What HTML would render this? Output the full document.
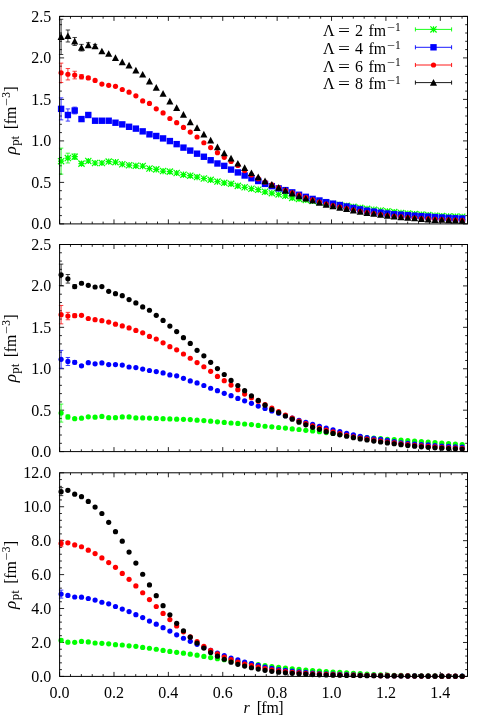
<!DOCTYPE html>
<html><head><meta charset="utf-8"><title>rho_pt</title>
<style>
html,body{margin:0;padding:0;background:#fff;}
svg{display:block;will-change:transform;}
text{font-family:"Liberation Serif",serif;font-size:16px;fill:#000;}
text.s{font-size:11.5px;}
</style></head>
<body>
<svg width="491" height="720" viewBox="0 0 491 720">
<rect width="491" height="720" fill="#fff"/>
<path d="M59.6 223.9v-4.5M59.6 16.4v4.5M70.48 223.9v-2.3M70.48 16.4v2.3M81.35 223.9v-2.3M81.35 16.4v2.3M92.23 223.9v-2.3M92.23 16.4v2.3M103.11 223.9v-2.3M103.11 16.4v2.3M113.99 223.9v-4.5M113.99 16.4v4.5M124.86 223.9v-2.3M124.86 16.4v2.3M135.74 223.9v-2.3M135.74 16.4v2.3M146.62 223.9v-2.3M146.62 16.4v2.3M157.5 223.9v-2.3M157.5 16.4v2.3M168.37 223.9v-4.5M168.37 16.4v4.5M179.25 223.9v-2.3M179.25 16.4v2.3M190.13 223.9v-2.3M190.13 16.4v2.3M201.01 223.9v-2.3M201.01 16.4v2.3M211.88 223.9v-2.3M211.88 16.4v2.3M222.76 223.9v-4.5M222.76 16.4v4.5M233.64 223.9v-2.3M233.64 16.4v2.3M244.51 223.9v-2.3M244.51 16.4v2.3M255.39 223.9v-2.3M255.39 16.4v2.3M266.27 223.9v-2.3M266.27 16.4v2.3M277.15 223.9v-4.5M277.15 16.4v4.5M288.02 223.9v-2.3M288.02 16.4v2.3M298.9 223.9v-2.3M298.9 16.4v2.3M309.78 223.9v-2.3M309.78 16.4v2.3M320.66 223.9v-2.3M320.66 16.4v2.3M331.53 223.9v-4.5M331.53 16.4v4.5M342.41 223.9v-2.3M342.41 16.4v2.3M353.29 223.9v-2.3M353.29 16.4v2.3M364.17 223.9v-2.3M364.17 16.4v2.3M375.04 223.9v-2.3M375.04 16.4v2.3M385.92 223.9v-4.5M385.92 16.4v4.5M396.8 223.9v-2.3M396.8 16.4v2.3M407.67 223.9v-2.3M407.67 16.4v2.3M418.55 223.9v-2.3M418.55 16.4v2.3M429.43 223.9v-2.3M429.43 16.4v2.3M440.31 223.9v-4.5M440.31 16.4v4.5M451.18 223.9v-2.3M451.18 16.4v2.3M462.06 223.9v-2.3M462.06 16.4v2.3M59.6 223.9h4.5M467.5 223.9h-4.5M59.6 215.6h2.3M467.5 215.6h-2.3M59.6 207.3h2.3M467.5 207.3h-2.3M59.6 199h2.3M467.5 199h-2.3M59.6 190.7h2.3M467.5 190.7h-2.3M59.6 182.4h4.5M467.5 182.4h-4.5M59.6 174.1h2.3M467.5 174.1h-2.3M59.6 165.8h2.3M467.5 165.8h-2.3M59.6 157.5h2.3M467.5 157.5h-2.3M59.6 149.2h2.3M467.5 149.2h-2.3M59.6 140.9h4.5M467.5 140.9h-4.5M59.6 132.6h2.3M467.5 132.6h-2.3M59.6 124.3h2.3M467.5 124.3h-2.3M59.6 116h2.3M467.5 116h-2.3M59.6 107.7h2.3M467.5 107.7h-2.3M59.6 99.4h4.5M467.5 99.4h-4.5M59.6 91.1h2.3M467.5 91.1h-2.3M59.6 82.8h2.3M467.5 82.8h-2.3M59.6 74.5h2.3M467.5 74.5h-2.3M59.6 66.2h2.3M467.5 66.2h-2.3M59.6 57.9h4.5M467.5 57.9h-4.5M59.6 49.6h2.3M467.5 49.6h-2.3M59.6 41.3h2.3M467.5 41.3h-2.3M59.6 33h2.3M467.5 33h-2.3M59.6 24.7h2.3M467.5 24.7h-2.3M59.6 16.4h4.5M467.5 16.4h-4.5" stroke="#000" stroke-width="0.85" fill="none"/>
<g><path d="M61.1 148.15V174.15M58.9 148.15H63.3M58.9 174.15H63.3" stroke="#00ff00" stroke-width="0.75" fill="none"/><path d="M58 161.15H64.2M61.1 158.05V164.25M58 158.05L64.2 164.25M58 164.25L64.2 158.05" stroke="#00ff00" stroke-width="1.2" fill="none"/><path d="M67.9 153.18V162.98M65.7 153.18H70.1M65.7 162.98H70.1" stroke="#00ff00" stroke-width="0.75" fill="none"/><path d="M64.8 158.08H71M67.9 154.98V161.18M64.8 154.98L71 161.18M64.8 161.18L71 154.98" stroke="#00ff00" stroke-width="1.2" fill="none"/><path d="M74.7 153.97V159.37M72.5 153.97H76.9M72.5 159.37H76.9" stroke="#00ff00" stroke-width="0.75" fill="none"/><path d="M71.6 156.67H77.8M74.7 153.57V159.77M71.6 153.57L77.8 159.77M71.6 159.77L77.8 153.57" stroke="#00ff00" stroke-width="1.2" fill="none"/><path d="M81.49 161.84V165.44M79.29 161.84H83.69M79.29 165.44H83.69" stroke="#00ff00" stroke-width="0.75" fill="none"/><path d="M78.39 163.64H84.59M81.49 160.54V166.74M78.39 160.54L84.59 166.74M78.39 166.74L84.59 160.54" stroke="#00ff00" stroke-width="1.2" fill="none"/><path d="M88.29 159.79V162.19M86.09 159.79H90.49M86.09 162.19H90.49" stroke="#00ff00" stroke-width="0.75" fill="none"/><path d="M85.19 160.99H91.39M88.29 157.89V164.09M85.19 157.89L91.39 164.09M85.19 164.09L91.39 157.89" stroke="#00ff00" stroke-width="1.2" fill="none"/><path d="M91.99 162.98H98.19M95.09 159.88V166.08M91.99 159.88L98.19 166.08M91.99 166.08L98.19 159.88" stroke="#00ff00" stroke-width="1.2" fill="none"/><path d="M98.79 162.98H104.99M101.89 159.88V166.08M98.79 159.88L104.99 166.08M98.79 166.08L104.99 159.88" stroke="#00ff00" stroke-width="1.2" fill="none"/><path d="M105.59 161.57H111.79M108.69 158.47V164.67M105.59 158.47L111.79 164.67M105.59 164.67L111.79 158.47" stroke="#00ff00" stroke-width="1.2" fill="none"/><path d="M112.38 162.15H118.58M115.48 159.05V165.25M112.38 159.05L118.58 165.25M112.38 165.25L118.58 159.05" stroke="#00ff00" stroke-width="1.2" fill="none"/><path d="M119.18 164.22H125.38M122.28 161.12V167.32M119.18 161.12L125.38 167.32M119.18 167.32L125.38 161.12" stroke="#00ff00" stroke-width="1.2" fill="none"/><path d="M125.98 165.22H132.18M129.08 162.12V168.32M125.98 162.12L132.18 168.32M125.98 168.32L132.18 162.12" stroke="#00ff00" stroke-width="1.2" fill="none"/><path d="M132.78 165.8H138.98M135.88 162.7V168.9M132.78 162.7L138.98 168.9M132.78 168.9L138.98 162.7" stroke="#00ff00" stroke-width="1.2" fill="none"/><path d="M139.58 166.05H145.78M142.68 162.95V169.15M139.58 162.95L145.78 169.15M139.58 169.15L145.78 162.95" stroke="#00ff00" stroke-width="1.2" fill="none"/><path d="M146.37 168.54H152.57M149.47 165.44V171.64M146.37 165.44L152.57 171.64M146.37 171.64L152.57 165.44" stroke="#00ff00" stroke-width="1.2" fill="none"/><path d="M153.17 169.37H159.37M156.27 166.27V172.47M153.17 166.27L159.37 172.47M153.17 172.47L159.37 166.27" stroke="#00ff00" stroke-width="1.2" fill="none"/><path d="M159.97 171.03H166.17M163.07 167.93V174.13M159.97 167.93L166.17 174.13M159.97 174.13L166.17 167.93" stroke="#00ff00" stroke-width="1.2" fill="none"/><path d="M166.77 171.61H172.97M169.87 168.51V174.71M166.77 168.51L172.97 174.71M166.77 174.71L172.97 168.51" stroke="#00ff00" stroke-width="1.2" fill="none"/><path d="M173.57 173.02H179.77M176.67 169.92V176.12M173.57 169.92L179.77 176.12M173.57 176.12L179.77 169.92" stroke="#00ff00" stroke-width="1.2" fill="none"/><path d="M180.36 174.68H186.56M183.46 171.58V177.78M180.36 171.58L186.56 177.78M180.36 177.78L186.56 171.58" stroke="#00ff00" stroke-width="1.2" fill="none"/><path d="M187.16 175.68H193.36M190.26 172.58V178.78M187.16 172.58L193.36 178.78M187.16 178.78L193.36 172.58" stroke="#00ff00" stroke-width="1.2" fill="none"/><path d="M193.96 177.09H200.16M197.06 173.99V180.19M193.96 173.99L200.16 180.19M193.96 180.19L200.16 173.99" stroke="#00ff00" stroke-width="1.2" fill="none"/><path d="M200.76 178.5H206.96M203.86 175.4V181.6M200.76 175.4L206.96 181.6M200.76 181.6L206.96 175.4" stroke="#00ff00" stroke-width="1.2" fill="none"/><path d="M207.56 179.83H213.76M210.66 176.73V182.93M207.56 176.73L213.76 182.93M207.56 182.93L213.76 176.73" stroke="#00ff00" stroke-width="1.2" fill="none"/><path d="M214.35 181.57H220.55M217.45 178.47V184.67M214.35 178.47L220.55 184.67M214.35 184.67L220.55 178.47" stroke="#00ff00" stroke-width="1.2" fill="none"/><path d="M221.15 182.81H227.35M224.25 179.72V185.91M221.15 179.72L227.35 185.91M221.15 185.91L227.35 179.72" stroke="#00ff00" stroke-width="1.2" fill="none"/><path d="M227.95 183.81H234.15M231.05 180.71V186.91M227.95 180.71L234.15 186.91M227.95 186.91L234.15 180.71" stroke="#00ff00" stroke-width="1.2" fill="none"/><path d="M234.75 185.89H240.95M237.85 182.79V188.99M234.75 182.79L240.95 188.99M234.75 188.99L240.95 182.79" stroke="#00ff00" stroke-width="1.2" fill="none"/><path d="M241.55 187.3H247.75M244.65 184.2V190.4M241.55 184.2L247.75 190.4M241.55 190.4L247.75 184.2" stroke="#00ff00" stroke-width="1.2" fill="none"/><path d="M248.34 188.71H254.54M251.44 185.61V191.81M248.34 185.61L254.54 191.81M248.34 191.81L254.54 185.61" stroke="#00ff00" stroke-width="1.2" fill="none"/><path d="M255.14 189.7H261.34M258.24 186.6V192.8M255.14 186.6L261.34 192.8M255.14 192.8L261.34 186.6" stroke="#00ff00" stroke-width="1.2" fill="none"/><path d="M261.94 191.78H268.14M265.04 188.68V194.88M261.94 188.68L268.14 194.88M261.94 194.88L268.14 188.68" stroke="#00ff00" stroke-width="1.2" fill="none"/><path d="M268.74 193.19H274.94M271.84 190.09V196.29M268.74 190.09L274.94 196.29M268.74 196.29L274.94 190.09" stroke="#00ff00" stroke-width="1.2" fill="none"/><path d="M275.54 194.44H281.74M278.64 191.34V197.53M275.54 191.34L281.74 197.53M275.54 197.53L281.74 191.34" stroke="#00ff00" stroke-width="1.2" fill="none"/><path d="M282.33 195.85H288.53M285.43 192.75V198.95M282.33 192.75L288.53 198.95M282.33 198.95L288.53 192.75" stroke="#00ff00" stroke-width="1.2" fill="none"/><path d="M289.13 197.92H295.33M292.23 194.82V201.02M289.13 194.82L295.33 201.02M289.13 201.02L295.33 194.82" stroke="#00ff00" stroke-width="1.2" fill="none"/><path d="M295.93 198.92H302.13M299.03 195.82V202.02M295.93 195.82L302.13 202.02M295.93 202.02L302.13 195.82" stroke="#00ff00" stroke-width="1.2" fill="none"/><path d="M302.73 199.92H308.93M305.83 196.82V203.02M302.73 196.82L308.93 203.02M302.73 203.02L308.93 196.82" stroke="#00ff00" stroke-width="1.2" fill="none"/><path d="M309.53 200.91H315.73M312.63 197.81V204.01M309.53 197.81L315.73 204.01M309.53 204.01L315.73 197.81" stroke="#00ff00" stroke-width="1.2" fill="none"/><path d="M316.32 201.91H322.52M319.42 198.81V205M316.32 198.81L322.52 205M316.32 205L322.52 198.81" stroke="#00ff00" stroke-width="1.2" fill="none"/><path d="M323.12 202.91H329.32M326.22 199.81V206.01M323.12 199.81L329.32 206.01M323.12 206.01L329.32 199.81" stroke="#00ff00" stroke-width="1.2" fill="none"/><path d="M329.92 203.91H336.12M333.02 200.81V207.01M329.92 200.81L336.12 207.01M329.92 207.01L336.12 200.81" stroke="#00ff00" stroke-width="1.2" fill="none"/><path d="M336.72 204.91H342.92M339.82 201.81V208.01M336.72 201.81L342.92 208.01M336.72 208.01L342.92 201.81" stroke="#00ff00" stroke-width="1.2" fill="none"/><path d="M343.52 205.89H349.72M346.62 202.79V208.99M343.52 202.79L349.72 208.99M343.52 208.99L349.72 202.79" stroke="#00ff00" stroke-width="1.2" fill="none"/><path d="M350.31 206.88H356.51M353.41 203.78V209.98M350.31 203.78L356.51 209.98M350.31 209.98L356.51 203.78" stroke="#00ff00" stroke-width="1.2" fill="none"/><path d="M357.11 207.87H363.31M360.21 204.77V210.97M357.11 204.77L363.31 210.97M357.11 210.97L363.31 204.77" stroke="#00ff00" stroke-width="1.2" fill="none"/><path d="M363.91 208.81H370.11M367.01 205.71V211.91M363.91 205.71L370.11 211.91M363.91 211.91L370.11 205.71" stroke="#00ff00" stroke-width="1.2" fill="none"/><path d="M370.71 209.71H376.91M373.81 206.61V212.81M370.71 206.61L376.91 212.81M370.71 212.81L376.91 206.61" stroke="#00ff00" stroke-width="1.2" fill="none"/><path d="M377.51 210.54H383.71M380.61 207.44V213.64M377.51 207.44L383.71 213.64M377.51 213.64L383.71 207.44" stroke="#00ff00" stroke-width="1.2" fill="none"/><path d="M384.3 211.33H390.5M387.4 208.23V214.43M384.3 208.23L390.5 214.43M384.3 214.43L390.5 208.23" stroke="#00ff00" stroke-width="1.2" fill="none"/><path d="M391.1 212.11H397.3M394.2 209.01V215.21M391.1 209.01L397.3 215.21M391.1 215.21L397.3 209.01" stroke="#00ff00" stroke-width="1.2" fill="none"/><path d="M397.9 212.94H404.1M401 209.84V216.04M397.9 209.84L404.1 216.04M397.9 216.04L404.1 209.84" stroke="#00ff00" stroke-width="1.2" fill="none"/><path d="M404.7 213.57H410.9M407.8 210.47V216.67M404.7 210.47L410.9 216.67M404.7 216.67L410.9 210.47" stroke="#00ff00" stroke-width="1.2" fill="none"/><path d="M411.5 214.1H417.7M414.6 211V217.2M411.5 211L417.7 217.2M411.5 217.2L417.7 211" stroke="#00ff00" stroke-width="1.2" fill="none"/><path d="M418.29 214.6H424.49M421.39 211.5V217.7M418.29 211.5L424.49 217.7M418.29 217.7L424.49 211.5" stroke="#00ff00" stroke-width="1.2" fill="none"/><path d="M425.09 215.14H431.29M428.19 212.04V218.24M425.09 212.04L431.29 218.24M425.09 218.24L431.29 212.04" stroke="#00ff00" stroke-width="1.2" fill="none"/><path d="M431.89 215.67H438.09M434.99 212.57V218.77M431.89 212.57L438.09 218.77M431.89 218.77L438.09 212.57" stroke="#00ff00" stroke-width="1.2" fill="none"/><path d="M438.69 216.12H444.89M441.79 213.02V219.22M438.69 213.02L444.89 219.22M438.69 219.22L444.89 213.02" stroke="#00ff00" stroke-width="1.2" fill="none"/><path d="M445.49 216.43H451.69M448.59 213.33V219.53M445.49 213.33L451.69 219.53M445.49 219.53L451.69 213.33" stroke="#00ff00" stroke-width="1.2" fill="none"/><path d="M452.28 216.63H458.48M455.38 213.53V219.73M452.28 213.53L458.48 219.73M452.28 219.73L458.48 213.53" stroke="#00ff00" stroke-width="1.2" fill="none"/><path d="M459.08 216.76H465.28M462.18 213.66V219.86M459.08 213.66L465.28 219.86M459.08 219.86L465.28 213.66" stroke="#00ff00" stroke-width="1.2" fill="none"/></g>
<g><path d="M61.1 97.86V119.86M58.9 97.86H63.3M58.9 119.86H63.3" stroke="#0000ff" stroke-width="0.75" fill="none"/><rect x="57.9" y="105.66" width="6.4" height="6.4" fill="#0000ff"/><path d="M67.9 108.9V121.1M65.7 108.9H70.1M65.7 121.1H70.1" stroke="#0000ff" stroke-width="0.75" fill="none"/><rect x="64.7" y="111.8" width="6.4" height="6.4" fill="#0000ff"/><path d="M74.7 107.12V113.92M72.5 107.12H76.9M72.5 113.92H76.9" stroke="#0000ff" stroke-width="0.75" fill="none"/><rect x="71.5" y="107.32" width="6.4" height="6.4" fill="#0000ff"/><path d="M81.49 117.07V121.07M79.29 117.07H83.69M79.29 121.07H83.69" stroke="#0000ff" stroke-width="0.75" fill="none"/><rect x="78.29" y="115.87" width="6.4" height="6.4" fill="#0000ff"/><path d="M88.29 113.6V116.4M86.09 113.6H90.49M86.09 116.4H90.49" stroke="#0000ff" stroke-width="0.75" fill="none"/><rect x="85.09" y="111.8" width="6.4" height="6.4" fill="#0000ff"/><rect x="91.89" y="117.53" width="6.4" height="6.4" fill="#0000ff"/><rect x="98.69" y="117.53" width="6.4" height="6.4" fill="#0000ff"/><rect x="105.49" y="117.53" width="6.4" height="6.4" fill="#0000ff"/><rect x="112.28" y="119.52" width="6.4" height="6.4" fill="#0000ff"/><rect x="119.08" y="121.18" width="6.4" height="6.4" fill="#0000ff"/><rect x="125.88" y="123.59" width="6.4" height="6.4" fill="#0000ff"/><rect x="132.68" y="125.42" width="6.4" height="6.4" fill="#0000ff"/><rect x="139.48" y="128.16" width="6.4" height="6.4" fill="#0000ff"/><rect x="146.27" y="131.14" width="6.4" height="6.4" fill="#0000ff"/><rect x="153.07" y="132.8" width="6.4" height="6.4" fill="#0000ff"/><rect x="159.87" y="135.21" width="6.4" height="6.4" fill="#0000ff"/><rect x="166.67" y="137.87" width="6.4" height="6.4" fill="#0000ff"/><rect x="173.47" y="140.94" width="6.4" height="6.4" fill="#0000ff"/><rect x="180.26" y="144.42" width="6.4" height="6.4" fill="#0000ff"/><rect x="187.06" y="147.41" width="6.4" height="6.4" fill="#0000ff"/><rect x="193.86" y="150.48" width="6.4" height="6.4" fill="#0000ff"/><rect x="200.66" y="153.55" width="6.4" height="6.4" fill="#0000ff"/><rect x="207.46" y="157.04" width="6.4" height="6.4" fill="#0000ff"/><rect x="214.25" y="160.28" width="6.4" height="6.4" fill="#0000ff"/><rect x="221.05" y="162.68" width="6.4" height="6.4" fill="#0000ff"/><rect x="227.85" y="166.42" width="6.4" height="6.4" fill="#0000ff"/><rect x="234.65" y="169.24" width="6.4" height="6.4" fill="#0000ff"/><rect x="241.45" y="172.31" width="6.4" height="6.4" fill="#0000ff"/><rect x="248.24" y="175.05" width="6.4" height="6.4" fill="#0000ff"/><rect x="255.04" y="177.79" width="6.4" height="6.4" fill="#0000ff"/><rect x="261.84" y="180.69" width="6.4" height="6.4" fill="#0000ff"/><rect x="268.64" y="182.94" width="6.4" height="6.4" fill="#0000ff"/><rect x="275.44" y="185.18" width="6.4" height="6.4" fill="#0000ff"/><rect x="282.23" y="186.92" width="6.4" height="6.4" fill="#0000ff"/><rect x="289.03" y="189.16" width="6.4" height="6.4" fill="#0000ff"/><rect x="295.83" y="191.57" width="6.4" height="6.4" fill="#0000ff"/><rect x="302.63" y="193.64" width="6.4" height="6.4" fill="#0000ff"/><rect x="309.43" y="195.72" width="6.4" height="6.4" fill="#0000ff"/><rect x="316.22" y="197.29" width="6.4" height="6.4" fill="#0000ff"/><rect x="323.02" y="198.95" width="6.4" height="6.4" fill="#0000ff"/><rect x="329.82" y="200.45" width="6.4" height="6.4" fill="#0000ff"/><rect x="336.62" y="201.86" width="6.4" height="6.4" fill="#0000ff"/><rect x="343.42" y="203.27" width="6.4" height="6.4" fill="#0000ff"/><rect x="350.21" y="204.76" width="6.4" height="6.4" fill="#0000ff"/><rect x="357.01" y="206.18" width="6.4" height="6.4" fill="#0000ff"/><rect x="363.81" y="207.5" width="6.4" height="6.4" fill="#0000ff"/><rect x="370.61" y="208.42" width="6.4" height="6.4" fill="#0000ff"/><rect x="377.41" y="209.41" width="6.4" height="6.4" fill="#0000ff"/><rect x="384.2" y="210.33" width="6.4" height="6.4" fill="#0000ff"/><rect x="391" y="211.07" width="6.4" height="6.4" fill="#0000ff"/><rect x="397.8" y="211.49" width="6.4" height="6.4" fill="#0000ff"/><rect x="404.6" y="211.99" width="6.4" height="6.4" fill="#0000ff"/><rect x="411.4" y="212.48" width="6.4" height="6.4" fill="#0000ff"/><rect x="418.19" y="212.98" width="6.4" height="6.4" fill="#0000ff"/><rect x="424.99" y="213.4" width="6.4" height="6.4" fill="#0000ff"/><rect x="431.79" y="213.89" width="6.4" height="6.4" fill="#0000ff"/><rect x="438.59" y="214.31" width="6.4" height="6.4" fill="#0000ff"/><rect x="445.39" y="214.72" width="6.4" height="6.4" fill="#0000ff"/><rect x="452.18" y="215.06" width="6.4" height="6.4" fill="#0000ff"/><rect x="458.98" y="215.31" width="6.4" height="6.4" fill="#0000ff"/></g>
<g><path d="M61.1 63.14V82.54M58.9 63.14H63.3M58.9 82.54H63.3" stroke="#ff0000" stroke-width="0.75" fill="none"/><circle cx="61.1" cy="72.84" r="2.6" fill="#ff0000"/><path d="M67.9 68.55V79.95M65.7 68.55H70.1M65.7 79.95H70.1" stroke="#ff0000" stroke-width="0.75" fill="none"/><circle cx="67.9" cy="74.25" r="2.6" fill="#ff0000"/><path d="M74.7 71.28V78.88M72.5 71.28H76.9M72.5 78.88H76.9" stroke="#ff0000" stroke-width="0.75" fill="none"/><circle cx="74.7" cy="75.08" r="2.6" fill="#ff0000"/><path d="M81.49 74.54V78.94M79.29 74.54H83.69M79.29 78.94H83.69" stroke="#ff0000" stroke-width="0.75" fill="none"/><circle cx="81.49" cy="76.74" r="2.6" fill="#ff0000"/><path d="M88.29 76.4V79.4M86.09 76.4H90.49M86.09 79.4H90.49" stroke="#ff0000" stroke-width="0.75" fill="none"/><circle cx="88.29" cy="77.9" r="2.6" fill="#ff0000"/><circle cx="95.09" cy="80.39" r="2.6" fill="#ff0000"/><circle cx="101.89" cy="84.04" r="2.6" fill="#ff0000"/><circle cx="108.69" cy="85.29" r="2.6" fill="#ff0000"/><circle cx="115.48" cy="86.29" r="2.6" fill="#ff0000"/><circle cx="122.28" cy="89.52" r="2.6" fill="#ff0000"/><circle cx="129.08" cy="92.18" r="2.6" fill="#ff0000"/><circle cx="135.88" cy="95.83" r="2.6" fill="#ff0000"/><circle cx="142.68" cy="100.89" r="2.6" fill="#ff0000"/><circle cx="149.47" cy="103.38" r="2.6" fill="#ff0000"/><circle cx="156.27" cy="108.86" r="2.6" fill="#ff0000"/><circle cx="163.07" cy="112.93" r="2.6" fill="#ff0000"/><circle cx="169.87" cy="118.49" r="2.6" fill="#ff0000"/><circle cx="176.67" cy="122.72" r="2.6" fill="#ff0000"/><circle cx="183.46" cy="127.45" r="2.6" fill="#ff0000"/><circle cx="190.26" cy="132.1" r="2.6" fill="#ff0000"/><circle cx="197.06" cy="137" r="2.6" fill="#ff0000"/><circle cx="203.86" cy="142.73" r="2.6" fill="#ff0000"/><circle cx="210.66" cy="147.62" r="2.6" fill="#ff0000"/><circle cx="217.45" cy="152.69" r="2.6" fill="#ff0000"/><circle cx="224.25" cy="157.33" r="2.6" fill="#ff0000"/><circle cx="231.05" cy="161.4" r="2.6" fill="#ff0000"/><circle cx="237.85" cy="165.47" r="2.6" fill="#ff0000"/><circle cx="244.65" cy="170.61" r="2.6" fill="#ff0000"/><circle cx="251.44" cy="175.01" r="2.6" fill="#ff0000"/><circle cx="258.24" cy="178.71" r="2.6" fill="#ff0000"/><circle cx="265.04" cy="181.99" r="2.6" fill="#ff0000"/><circle cx="271.84" cy="184.96" r="2.6" fill="#ff0000"/><circle cx="278.64" cy="187.68" r="2.6" fill="#ff0000"/><circle cx="285.43" cy="190.28" r="2.6" fill="#ff0000"/><circle cx="292.23" cy="192.8" r="2.6" fill="#ff0000"/><circle cx="299.03" cy="195.19" r="2.6" fill="#ff0000"/><circle cx="305.83" cy="197.51" r="2.6" fill="#ff0000"/><circle cx="312.63" cy="199.81" r="2.6" fill="#ff0000"/><circle cx="319.42" cy="202.01" r="2.6" fill="#ff0000"/><circle cx="326.22" cy="203.98" r="2.6" fill="#ff0000"/><circle cx="333.02" cy="205.67" r="2.6" fill="#ff0000"/><circle cx="339.82" cy="207.19" r="2.6" fill="#ff0000"/><circle cx="346.62" cy="208.63" r="2.6" fill="#ff0000"/><circle cx="353.41" cy="210.02" r="2.6" fill="#ff0000"/><circle cx="360.21" cy="211.34" r="2.6" fill="#ff0000"/><circle cx="367.01" cy="212.53" r="2.6" fill="#ff0000"/><circle cx="373.81" cy="213.61" r="2.6" fill="#ff0000"/><circle cx="380.61" cy="214.6" r="2.6" fill="#ff0000"/><circle cx="387.4" cy="215.49" r="2.6" fill="#ff0000"/><circle cx="394.2" cy="216.26" r="2.6" fill="#ff0000"/><circle cx="401" cy="216.96" r="2.6" fill="#ff0000"/><circle cx="407.8" cy="217.58" r="2.6" fill="#ff0000"/><circle cx="414.6" cy="218.13" r="2.6" fill="#ff0000"/><circle cx="421.39" cy="218.59" r="2.6" fill="#ff0000"/><circle cx="428.19" cy="218.96" r="2.6" fill="#ff0000"/><circle cx="434.99" cy="219.28" r="2.6" fill="#ff0000"/><circle cx="441.79" cy="219.58" r="2.6" fill="#ff0000"/><circle cx="448.59" cy="219.88" r="2.6" fill="#ff0000"/><circle cx="455.38" cy="220.15" r="2.6" fill="#ff0000"/><circle cx="462.18" cy="220.41" r="2.6" fill="#ff0000"/></g>
<g><path d="M61.1 19.3V54.5M58.9 19.3H63.3M58.9 54.5H63.3" stroke="#000000" stroke-width="0.75" fill="none"/><path d="M61.1 33.3L64.65 40H57.55Z" fill="#000000"/><path d="M67.9 29.99V41.99M65.7 29.99H70.1M65.7 41.99H70.1" stroke="#000000" stroke-width="0.75" fill="none"/><path d="M67.9 32.39L71.45 39.09H64.35Z" fill="#000000"/><path d="M74.7 37.47V45.47M72.5 37.47H76.9M72.5 45.47H76.9" stroke="#000000" stroke-width="0.75" fill="none"/><path d="M74.7 37.87L78.25 44.57H71.15Z" fill="#000000"/><path d="M81.49 44.39V50.99M79.29 44.39H83.69M79.29 50.99H83.69" stroke="#000000" stroke-width="0.75" fill="none"/><path d="M81.49 44.09L85.04 50.79H77.94Z" fill="#000000"/><path d="M88.29 42.72V47.52M86.09 42.72H90.49M86.09 47.52H90.49" stroke="#000000" stroke-width="0.75" fill="none"/><path d="M88.29 41.52L91.84 48.22H84.74Z" fill="#000000"/><path d="M95.09 44.43V47.63M92.89 44.43H97.29M92.89 47.63H97.29" stroke="#000000" stroke-width="0.75" fill="none"/><path d="M95.09 42.43L98.64 49.13H91.54Z" fill="#000000"/><path d="M101.89 47.66L105.44 54.36H98.34Z" fill="#000000"/><path d="M108.69 50.15L112.24 56.85H105.14Z" fill="#000000"/><path d="M115.48 54.3L119.03 61H111.93Z" fill="#000000"/><path d="M122.28 58.62L125.83 65.32H118.73Z" fill="#000000"/><path d="M129.08 61.77L132.63 68.47H125.53Z" fill="#000000"/><path d="M135.88 66.75L139.43 73.45H132.33Z" fill="#000000"/><path d="M142.68 70.9L146.23 77.6H139.13Z" fill="#000000"/><path d="M149.47 77.79L153.02 84.49H145.92Z" fill="#000000"/><path d="M156.27 83.93L159.82 90.63H152.72Z" fill="#000000"/><path d="M163.07 89.99L166.62 96.69H159.52Z" fill="#000000"/><path d="M169.87 97.71L173.42 104.41H166.32Z" fill="#000000"/><path d="M176.67 104.27L180.22 110.97H173.12Z" fill="#000000"/><path d="M183.46 110.99L187.01 117.69H179.91Z" fill="#000000"/><path d="M190.26 118.54L193.81 125.24H186.71Z" fill="#000000"/><path d="M197.06 124.19L200.61 130.89H193.51Z" fill="#000000"/><path d="M203.86 130.74L207.41 137.44H200.31Z" fill="#000000"/><path d="M210.66 136.8L214.21 143.5H207.11Z" fill="#000000"/><path d="M217.45 143.61L221 150.31H213.9Z" fill="#000000"/><path d="M224.25 149.67L227.8 156.37H220.7Z" fill="#000000"/><path d="M231.05 154.81L234.6 161.51H227.5Z" fill="#000000"/><path d="M237.85 159.88L241.4 166.58H234.3Z" fill="#000000"/><path d="M244.65 164.36L248.2 171.06H241.1Z" fill="#000000"/><path d="M251.44 169.42L254.99 176.12H247.89Z" fill="#000000"/><path d="M258.24 173.49L261.79 180.19H254.69Z" fill="#000000"/><path d="M265.04 177.56L268.59 184.25H261.49Z" fill="#000000"/><path d="M271.84 181.04L275.39 187.74H268.29Z" fill="#000000"/><path d="M278.64 184.11L282.19 190.81H275.09Z" fill="#000000"/><path d="M285.43 187.1L288.98 193.8H281.88Z" fill="#000000"/><path d="M292.23 189.76L295.78 196.46H288.68Z" fill="#000000"/><path d="M299.03 192.58L302.58 199.28H295.48Z" fill="#000000"/><path d="M305.83 194.9L309.38 201.6H302.28Z" fill="#000000"/><path d="M312.63 196.89L316.18 203.59H309.08Z" fill="#000000"/><path d="M319.42 198.97L322.97 205.67H315.87Z" fill="#000000"/><path d="M326.22 200.96L329.77 207.66H322.67Z" fill="#000000"/><path d="M333.02 202.54L336.57 209.24H329.47Z" fill="#000000"/><path d="M339.82 203.95L343.37 210.65H336.27Z" fill="#000000"/><path d="M346.62 205.28L350.17 211.98H343.07Z" fill="#000000"/><path d="M353.41 206.77L356.96 213.47H349.86Z" fill="#000000"/><path d="M360.21 208.1L363.76 214.8H356.66Z" fill="#000000"/><path d="M367.01 209.18L370.56 215.88H363.46Z" fill="#000000"/><path d="M373.81 210.17L377.36 216.87H370.26Z" fill="#000000"/><path d="M380.61 211.17L384.16 217.87H377.06Z" fill="#000000"/><path d="M387.4 212L390.95 218.7H383.85Z" fill="#000000"/><path d="M394.2 212.91L397.75 219.61H390.65Z" fill="#000000"/><path d="M401 213.49L404.55 220.19H397.45Z" fill="#000000"/><path d="M407.8 214.08L411.35 220.78H404.25Z" fill="#000000"/><path d="M414.6 214.66L418.15 221.36H411.05Z" fill="#000000"/><path d="M421.39 215.24L424.94 221.94H417.84Z" fill="#000000"/><path d="M428.19 215.74L431.74 222.44H424.64Z" fill="#000000"/><path d="M434.99 216.23L438.54 222.93H431.44Z" fill="#000000"/><path d="M441.79 216.15L445.34 222.85H438.24Z" fill="#000000"/><path d="M448.59 216.56L452.14 223.26H445.04Z" fill="#000000"/><path d="M455.38 216.9L458.93 223.6H451.83Z" fill="#000000"/><path d="M462.18 217.15L465.73 223.85H458.63Z" fill="#000000"/></g>
<rect x="59.6" y="16.4" width="407.9" height="207.5" fill="none" stroke="#000" stroke-width="1"/>
<text x="51.3" y="229.3" text-anchor="end">0.0</text>
<text x="51.3" y="187.8" text-anchor="end">0.5</text>
<text x="51.3" y="146.3" text-anchor="end">1.0</text>
<text x="51.3" y="104.8" text-anchor="end">1.5</text>
<text x="51.3" y="63.3" text-anchor="end">2.0</text>
<text x="51.3" y="21.8" text-anchor="end">2.5</text>
<g transform="translate(16.0 120.15) rotate(-90)"><text x="-34.3" y="0" font-style="italic" textLength="8.2" lengthAdjust="spacingAndGlyphs">ρ</text><text x="-25.7" y="3.4" class="s" textLength="10" lengthAdjust="spacingAndGlyphs">pt</text><text x="-9.2" y="0">[</text><text x="-4.2" y="0" textLength="17.6" lengthAdjust="spacingAndGlyphs">fm</text><text x="14.1" y="-6.4" class="s" textLength="8" lengthAdjust="spacingAndGlyphs">−</text><text x="22.4" y="-6.4" class="s">3</text><text x="28.4" y="0">]</text></g>
<path d="M59.6 451.6v-4.5M59.6 244.5v4.5M70.48 451.6v-2.3M70.48 244.5v2.3M81.35 451.6v-2.3M81.35 244.5v2.3M92.23 451.6v-2.3M92.23 244.5v2.3M103.11 451.6v-2.3M103.11 244.5v2.3M113.99 451.6v-4.5M113.99 244.5v4.5M124.86 451.6v-2.3M124.86 244.5v2.3M135.74 451.6v-2.3M135.74 244.5v2.3M146.62 451.6v-2.3M146.62 244.5v2.3M157.5 451.6v-2.3M157.5 244.5v2.3M168.37 451.6v-4.5M168.37 244.5v4.5M179.25 451.6v-2.3M179.25 244.5v2.3M190.13 451.6v-2.3M190.13 244.5v2.3M201.01 451.6v-2.3M201.01 244.5v2.3M211.88 451.6v-2.3M211.88 244.5v2.3M222.76 451.6v-4.5M222.76 244.5v4.5M233.64 451.6v-2.3M233.64 244.5v2.3M244.51 451.6v-2.3M244.51 244.5v2.3M255.39 451.6v-2.3M255.39 244.5v2.3M266.27 451.6v-2.3M266.27 244.5v2.3M277.15 451.6v-4.5M277.15 244.5v4.5M288.02 451.6v-2.3M288.02 244.5v2.3M298.9 451.6v-2.3M298.9 244.5v2.3M309.78 451.6v-2.3M309.78 244.5v2.3M320.66 451.6v-2.3M320.66 244.5v2.3M331.53 451.6v-4.5M331.53 244.5v4.5M342.41 451.6v-2.3M342.41 244.5v2.3M353.29 451.6v-2.3M353.29 244.5v2.3M364.17 451.6v-2.3M364.17 244.5v2.3M375.04 451.6v-2.3M375.04 244.5v2.3M385.92 451.6v-4.5M385.92 244.5v4.5M396.8 451.6v-2.3M396.8 244.5v2.3M407.67 451.6v-2.3M407.67 244.5v2.3M418.55 451.6v-2.3M418.55 244.5v2.3M429.43 451.6v-2.3M429.43 244.5v2.3M440.31 451.6v-4.5M440.31 244.5v4.5M451.18 451.6v-2.3M451.18 244.5v2.3M462.06 451.6v-2.3M462.06 244.5v2.3M59.6 451.6h4.5M467.5 451.6h-4.5M59.6 443.32h2.3M467.5 443.32h-2.3M59.6 435.03h2.3M467.5 435.03h-2.3M59.6 426.75h2.3M467.5 426.75h-2.3M59.6 418.46h2.3M467.5 418.46h-2.3M59.6 410.18h4.5M467.5 410.18h-4.5M59.6 401.9h2.3M467.5 401.9h-2.3M59.6 393.61h2.3M467.5 393.61h-2.3M59.6 385.33h2.3M467.5 385.33h-2.3M59.6 377.04h2.3M467.5 377.04h-2.3M59.6 368.76h4.5M467.5 368.76h-4.5M59.6 360.48h2.3M467.5 360.48h-2.3M59.6 352.19h2.3M467.5 352.19h-2.3M59.6 343.91h2.3M467.5 343.91h-2.3M59.6 335.62h2.3M467.5 335.62h-2.3M59.6 327.34h4.5M467.5 327.34h-4.5M59.6 319.06h2.3M467.5 319.06h-2.3M59.6 310.77h2.3M467.5 310.77h-2.3M59.6 302.49h2.3M467.5 302.49h-2.3M59.6 294.2h2.3M467.5 294.2h-2.3M59.6 285.92h4.5M467.5 285.92h-4.5M59.6 277.64h2.3M467.5 277.64h-2.3M59.6 269.35h2.3M467.5 269.35h-2.3M59.6 261.07h2.3M467.5 261.07h-2.3M59.6 252.78h2.3M467.5 252.78h-2.3M59.6 244.5h4.5M467.5 244.5h-4.5" stroke="#000" stroke-width="0.85" fill="none"/>
<g><path d="M61.1 404.08V422.08M58.9 404.08H63.3M58.9 422.08H63.3" stroke="#00ff00" stroke-width="0.75" fill="none"/><circle cx="61.1" cy="413.08" r="2.6" fill="#00ff00"/><path d="M67.9 414.97V418.97M65.7 414.97H70.1M65.7 418.97H70.1" stroke="#00ff00" stroke-width="0.75" fill="none"/><circle cx="67.9" cy="416.97" r="2.6" fill="#00ff00"/><path d="M74.7 417.63V419.63M72.5 417.63H76.9M72.5 419.63H76.9" stroke="#00ff00" stroke-width="0.75" fill="none"/><circle cx="74.7" cy="418.63" r="2.6" fill="#00ff00"/><circle cx="81.49" cy="418.22" r="2.6" fill="#00ff00"/><circle cx="88.29" cy="416.81" r="2.6" fill="#00ff00"/><circle cx="95.09" cy="417.22" r="2.6" fill="#00ff00"/><circle cx="101.89" cy="416.39" r="2.6" fill="#00ff00"/><circle cx="108.69" cy="417.64" r="2.6" fill="#00ff00"/><circle cx="115.48" cy="417.64" r="2.6" fill="#00ff00"/><circle cx="122.28" cy="416.97" r="2.6" fill="#00ff00"/><circle cx="129.08" cy="416.97" r="2.6" fill="#00ff00"/><circle cx="135.88" cy="417.97" r="2.6" fill="#00ff00"/><circle cx="142.68" cy="417.97" r="2.6" fill="#00ff00"/><circle cx="149.47" cy="418.05" r="2.6" fill="#00ff00"/><circle cx="156.27" cy="418.46" r="2.6" fill="#00ff00"/><circle cx="163.07" cy="418.71" r="2.6" fill="#00ff00"/><circle cx="169.87" cy="418.88" r="2.6" fill="#00ff00"/><circle cx="176.67" cy="419.13" r="2.6" fill="#00ff00"/><circle cx="183.46" cy="419.29" r="2.6" fill="#00ff00"/><circle cx="190.26" cy="419.62" r="2.6" fill="#00ff00"/><circle cx="197.06" cy="420.2" r="2.6" fill="#00ff00"/><circle cx="203.86" cy="420.62" r="2.6" fill="#00ff00"/><circle cx="210.66" cy="421.2" r="2.6" fill="#00ff00"/><circle cx="217.45" cy="421.78" r="2.6" fill="#00ff00"/><circle cx="224.25" cy="422.44" r="2.6" fill="#00ff00"/><circle cx="231.05" cy="423.02" r="2.6" fill="#00ff00"/><circle cx="237.85" cy="423.43" r="2.6" fill="#00ff00"/><circle cx="244.65" cy="424.01" r="2.6" fill="#00ff00"/><circle cx="251.44" cy="424.59" r="2.6" fill="#00ff00"/><circle cx="258.24" cy="425.42" r="2.6" fill="#00ff00"/><circle cx="265.04" cy="426.25" r="2.6" fill="#00ff00"/><circle cx="271.84" cy="426.83" r="2.6" fill="#00ff00"/><circle cx="278.64" cy="427.49" r="2.6" fill="#00ff00"/><circle cx="285.43" cy="428.07" r="2.6" fill="#00ff00"/><circle cx="292.23" cy="428.9" r="2.6" fill="#00ff00"/><circle cx="299.03" cy="429.48" r="2.6" fill="#00ff00"/><circle cx="305.83" cy="430.31" r="2.6" fill="#00ff00"/><circle cx="312.63" cy="430.89" r="2.6" fill="#00ff00"/><circle cx="319.42" cy="431.72" r="2.6" fill="#00ff00"/><circle cx="326.22" cy="432.59" r="2.6" fill="#00ff00"/><circle cx="333.02" cy="433.46" r="2.6" fill="#00ff00"/><circle cx="339.82" cy="434.33" r="2.6" fill="#00ff00"/><circle cx="346.62" cy="435.2" r="2.6" fill="#00ff00"/><circle cx="353.41" cy="436.1" r="2.6" fill="#00ff00"/><circle cx="360.21" cy="436.94" r="2.6" fill="#00ff00"/><circle cx="367.01" cy="437.6" r="2.6" fill="#00ff00"/><circle cx="373.81" cy="438.1" r="2.6" fill="#00ff00"/><circle cx="380.61" cy="438.51" r="2.6" fill="#00ff00"/><circle cx="387.4" cy="439.34" r="2.6" fill="#00ff00"/><circle cx="394.2" cy="439.67" r="2.6" fill="#00ff00"/><circle cx="401" cy="440.17" r="2.6" fill="#00ff00"/><circle cx="407.8" cy="440.67" r="2.6" fill="#00ff00"/><circle cx="414.6" cy="441.16" r="2.6" fill="#00ff00"/><circle cx="421.39" cy="441.66" r="2.6" fill="#00ff00"/><circle cx="428.19" cy="442.16" r="2.6" fill="#00ff00"/><circle cx="434.99" cy="442.65" r="2.6" fill="#00ff00"/><circle cx="441.79" cy="443.15" r="2.6" fill="#00ff00"/><circle cx="448.59" cy="443.65" r="2.6" fill="#00ff00"/><circle cx="455.38" cy="444.09" r="2.6" fill="#00ff00"/><circle cx="462.18" cy="444.48" r="2.6" fill="#00ff00"/></g>
<g><path d="M61.1 350.42V368.22M58.9 350.42H63.3M58.9 368.22H63.3" stroke="#0000ff" stroke-width="0.75" fill="none"/><circle cx="61.1" cy="359.32" r="2.6" fill="#0000ff"/><path d="M67.9 357.47V365.47M65.7 357.47H70.1M65.7 365.47H70.1" stroke="#0000ff" stroke-width="0.75" fill="none"/><circle cx="67.9" cy="361.47" r="2.6" fill="#0000ff"/><path d="M74.7 360.5V364.1M72.5 360.5H76.9M72.5 364.1H76.9" stroke="#0000ff" stroke-width="0.75" fill="none"/><circle cx="74.7" cy="362.3" r="2.6" fill="#0000ff"/><path d="M81.49 364.78V366.78M79.29 364.78H83.69M79.29 366.78H83.69" stroke="#0000ff" stroke-width="0.75" fill="none"/><circle cx="81.49" cy="365.78" r="2.6" fill="#0000ff"/><circle cx="88.29" cy="362.71" r="2.6" fill="#0000ff"/><circle cx="95.09" cy="363.79" r="2.6" fill="#0000ff"/><circle cx="101.89" cy="362.88" r="2.6" fill="#0000ff"/><circle cx="108.69" cy="364.62" r="2.6" fill="#0000ff"/><circle cx="115.48" cy="364.62" r="2.6" fill="#0000ff"/><circle cx="122.28" cy="365.03" r="2.6" fill="#0000ff"/><circle cx="129.08" cy="367.02" r="2.6" fill="#0000ff"/><circle cx="135.88" cy="367.6" r="2.6" fill="#0000ff"/><circle cx="142.68" cy="369.09" r="2.6" fill="#0000ff"/><circle cx="149.47" cy="370.5" r="2.6" fill="#0000ff"/><circle cx="156.27" cy="371.58" r="2.6" fill="#0000ff"/><circle cx="163.07" cy="372.9" r="2.6" fill="#0000ff"/><circle cx="169.87" cy="374.89" r="2.6" fill="#0000ff"/><circle cx="176.67" cy="375.8" r="2.6" fill="#0000ff"/><circle cx="183.46" cy="378.37" r="2.6" fill="#0000ff"/><circle cx="190.26" cy="380.94" r="2.6" fill="#0000ff"/><circle cx="197.06" cy="382.93" r="2.6" fill="#0000ff"/><circle cx="203.86" cy="385.49" r="2.6" fill="#0000ff"/><circle cx="210.66" cy="388.23" r="2.6" fill="#0000ff"/><circle cx="217.45" cy="390.63" r="2.6" fill="#0000ff"/><circle cx="224.25" cy="393.28" r="2.6" fill="#0000ff"/><circle cx="231.05" cy="395.68" r="2.6" fill="#0000ff"/><circle cx="237.85" cy="398.42" r="2.6" fill="#0000ff"/><circle cx="244.65" cy="400.82" r="2.6" fill="#0000ff"/><circle cx="251.44" cy="403.3" r="2.6" fill="#0000ff"/><circle cx="258.24" cy="406.12" r="2.6" fill="#0000ff"/><circle cx="265.04" cy="408.52" r="2.6" fill="#0000ff"/><circle cx="271.84" cy="411.01" r="2.6" fill="#0000ff"/><circle cx="278.64" cy="413.25" r="2.6" fill="#0000ff"/><circle cx="285.43" cy="415.65" r="2.6" fill="#0000ff"/><circle cx="292.23" cy="418.13" r="2.6" fill="#0000ff"/><circle cx="299.03" cy="420.29" r="2.6" fill="#0000ff"/><circle cx="305.83" cy="422.44" r="2.6" fill="#0000ff"/><circle cx="312.63" cy="424.43" r="2.6" fill="#0000ff"/><circle cx="319.42" cy="426.25" r="2.6" fill="#0000ff"/><circle cx="326.22" cy="428.07" r="2.6" fill="#0000ff"/><circle cx="333.02" cy="429.73" r="2.6" fill="#0000ff"/><circle cx="339.82" cy="431.72" r="2.6" fill="#0000ff"/><circle cx="346.62" cy="433.29" r="2.6" fill="#0000ff"/><circle cx="353.41" cy="434.78" r="2.6" fill="#0000ff"/><circle cx="360.21" cy="436.27" r="2.6" fill="#0000ff"/><circle cx="367.01" cy="437.52" r="2.6" fill="#0000ff"/><circle cx="373.81" cy="438.51" r="2.6" fill="#0000ff"/><circle cx="380.61" cy="439.42" r="2.6" fill="#0000ff"/><circle cx="387.4" cy="440.42" r="2.6" fill="#0000ff"/><circle cx="394.2" cy="441.58" r="2.6" fill="#0000ff"/><circle cx="401" cy="442.74" r="2.6" fill="#0000ff"/><circle cx="407.8" cy="443.46" r="2.6" fill="#0000ff"/><circle cx="414.6" cy="444" r="2.6" fill="#0000ff"/><circle cx="421.39" cy="444.48" r="2.6" fill="#0000ff"/><circle cx="428.19" cy="444.97" r="2.6" fill="#0000ff"/><circle cx="434.99" cy="445.52" r="2.6" fill="#0000ff"/><circle cx="441.79" cy="446.04" r="2.6" fill="#0000ff"/><circle cx="448.59" cy="446.46" r="2.6" fill="#0000ff"/><circle cx="455.38" cy="446.79" r="2.6" fill="#0000ff"/><circle cx="462.18" cy="447.04" r="2.6" fill="#0000ff"/></g>
<g><path d="M61.1 305.47V323.87M58.9 305.47H63.3M58.9 323.87H63.3" stroke="#ff0000" stroke-width="0.75" fill="none"/><circle cx="61.1" cy="314.67" r="2.6" fill="#ff0000"/><path d="M67.9 312.37V319.77M65.7 312.37H70.1M65.7 319.77H70.1" stroke="#ff0000" stroke-width="0.75" fill="none"/><circle cx="67.9" cy="316.07" r="2.6" fill="#ff0000"/><path d="M74.7 313.86V317.46M72.5 313.86H76.9M72.5 317.46H76.9" stroke="#ff0000" stroke-width="0.75" fill="none"/><circle cx="74.7" cy="315.66" r="2.6" fill="#ff0000"/><path d="M81.49 314.33V316.33M79.29 314.33H83.69M79.29 316.33H83.69" stroke="#ff0000" stroke-width="0.75" fill="none"/><circle cx="81.49" cy="315.33" r="2.6" fill="#ff0000"/><circle cx="88.29" cy="318.48" r="2.6" fill="#ff0000"/><circle cx="95.09" cy="319.64" r="2.6" fill="#ff0000"/><circle cx="101.89" cy="320.63" r="2.6" fill="#ff0000"/><circle cx="108.69" cy="322.04" r="2.6" fill="#ff0000"/><circle cx="115.48" cy="324.19" r="2.6" fill="#ff0000"/><circle cx="122.28" cy="325.93" r="2.6" fill="#ff0000"/><circle cx="129.08" cy="327.92" r="2.6" fill="#ff0000"/><circle cx="135.88" cy="330.41" r="2.6" fill="#ff0000"/><circle cx="142.68" cy="332.81" r="2.6" fill="#ff0000"/><circle cx="149.47" cy="336.45" r="2.6" fill="#ff0000"/><circle cx="156.27" cy="339.02" r="2.6" fill="#ff0000"/><circle cx="163.07" cy="342.83" r="2.6" fill="#ff0000"/><circle cx="169.87" cy="346.64" r="2.6" fill="#ff0000"/><circle cx="176.67" cy="349.87" r="2.6" fill="#ff0000"/><circle cx="183.46" cy="354.01" r="2.6" fill="#ff0000"/><circle cx="190.26" cy="358.24" r="2.6" fill="#ff0000"/><circle cx="197.06" cy="362.55" r="2.6" fill="#ff0000"/><circle cx="203.86" cy="366.77" r="2.6" fill="#ff0000"/><circle cx="210.66" cy="371.33" r="2.6" fill="#ff0000"/><circle cx="217.45" cy="376.38" r="2.6" fill="#ff0000"/><circle cx="224.25" cy="380.69" r="2.6" fill="#ff0000"/><circle cx="231.05" cy="385.08" r="2.6" fill="#ff0000"/><circle cx="237.85" cy="389.64" r="2.6" fill="#ff0000"/><circle cx="244.65" cy="394.11" r="2.6" fill="#ff0000"/><circle cx="251.44" cy="397.75" r="2.6" fill="#ff0000"/><circle cx="258.24" cy="401.17" r="2.6" fill="#ff0000"/><circle cx="265.04" cy="404.55" r="2.6" fill="#ff0000"/><circle cx="271.84" cy="408.14" r="2.6" fill="#ff0000"/><circle cx="278.64" cy="411.67" r="2.6" fill="#ff0000"/><circle cx="285.43" cy="415.01" r="2.6" fill="#ff0000"/><circle cx="292.23" cy="418.13" r="2.6" fill="#ff0000"/><circle cx="299.03" cy="420.99" r="2.6" fill="#ff0000"/><circle cx="305.83" cy="423.6" r="2.6" fill="#ff0000"/><circle cx="312.63" cy="425.94" r="2.6" fill="#ff0000"/><circle cx="319.42" cy="428.07" r="2.6" fill="#ff0000"/><circle cx="326.22" cy="430.04" r="2.6" fill="#ff0000"/><circle cx="333.02" cy="431.88" r="2.6" fill="#ff0000"/><circle cx="339.82" cy="433.7" r="2.6" fill="#ff0000"/><circle cx="346.62" cy="435.36" r="2.6" fill="#ff0000"/><circle cx="353.41" cy="436.78" r="2.6" fill="#ff0000"/><circle cx="360.21" cy="438.03" r="2.6" fill="#ff0000"/><circle cx="367.01" cy="439.17" r="2.6" fill="#ff0000"/><circle cx="373.81" cy="440.22" r="2.6" fill="#ff0000"/><circle cx="380.61" cy="441.17" r="2.6" fill="#ff0000"/><circle cx="387.4" cy="442.05" r="2.6" fill="#ff0000"/><circle cx="394.2" cy="442.9" r="2.6" fill="#ff0000"/><circle cx="401" cy="443.73" r="2.6" fill="#ff0000"/><circle cx="407.8" cy="444.52" r="2.6" fill="#ff0000"/><circle cx="414.6" cy="445.25" r="2.6" fill="#ff0000"/><circle cx="421.39" cy="445.9" r="2.6" fill="#ff0000"/><circle cx="428.19" cy="446.46" r="2.6" fill="#ff0000"/><circle cx="434.99" cy="446.96" r="2.6" fill="#ff0000"/><circle cx="441.79" cy="447.4" r="2.6" fill="#ff0000"/><circle cx="448.59" cy="447.79" r="2.6" fill="#ff0000"/><circle cx="455.38" cy="448.14" r="2.6" fill="#ff0000"/><circle cx="462.18" cy="448.45" r="2.6" fill="#ff0000"/></g>
<g><path d="M61.1 264.12V285.52M58.9 264.12H63.3M58.9 285.52H63.3" stroke="#000000" stroke-width="0.75" fill="none"/><circle cx="61.1" cy="274.82" r="2.6" fill="#000000"/><path d="M67.9 274.5V283.1M65.7 274.5H70.1M65.7 283.1H70.1" stroke="#000000" stroke-width="0.75" fill="none"/><circle cx="67.9" cy="278.8" r="2.6" fill="#000000"/><path d="M74.7 284.58V288.58M72.5 284.58H76.9M72.5 288.58H76.9" stroke="#000000" stroke-width="0.75" fill="none"/><circle cx="74.7" cy="286.58" r="2.6" fill="#000000"/><path d="M81.49 282.07V284.47M79.29 282.07H83.69M79.29 284.47H83.69" stroke="#000000" stroke-width="0.75" fill="none"/><circle cx="81.49" cy="283.27" r="2.6" fill="#000000"/><circle cx="88.29" cy="285.34" r="2.6" fill="#000000"/><circle cx="95.09" cy="287" r="2.6" fill="#000000"/><circle cx="101.89" cy="286.58" r="2.6" fill="#000000"/><circle cx="108.69" cy="291.3" r="2.6" fill="#000000"/><circle cx="115.48" cy="293.71" r="2.6" fill="#000000"/><circle cx="122.28" cy="295.7" r="2.6" fill="#000000"/><circle cx="129.08" cy="299.59" r="2.6" fill="#000000"/><circle cx="135.88" cy="302.9" r="2.6" fill="#000000"/><circle cx="142.68" cy="306.88" r="2.6" fill="#000000"/><circle cx="149.47" cy="310.27" r="2.6" fill="#000000"/><circle cx="156.27" cy="315.33" r="2.6" fill="#000000"/><circle cx="163.07" cy="320.38" r="2.6" fill="#000000"/><circle cx="169.87" cy="326.1" r="2.6" fill="#000000"/><circle cx="176.67" cy="331.56" r="2.6" fill="#000000"/><circle cx="183.46" cy="337.7" r="2.6" fill="#000000"/><circle cx="190.26" cy="343.41" r="2.6" fill="#000000"/><circle cx="197.06" cy="350.29" r="2.6" fill="#000000"/><circle cx="203.86" cy="355.84" r="2.6" fill="#000000"/><circle cx="210.66" cy="362.3" r="2.6" fill="#000000"/><circle cx="217.45" cy="368.59" r="2.6" fill="#000000"/><circle cx="224.25" cy="374.48" r="2.6" fill="#000000"/><circle cx="231.05" cy="380.44" r="2.6" fill="#000000"/><circle cx="237.85" cy="385.49" r="2.6" fill="#000000"/><circle cx="244.65" cy="390.63" r="2.6" fill="#000000"/><circle cx="251.44" cy="395.85" r="2.6" fill="#000000"/><circle cx="258.24" cy="400.4" r="2.6" fill="#000000"/><circle cx="265.04" cy="405.13" r="2.6" fill="#000000"/><circle cx="271.84" cy="409.52" r="2.6" fill="#000000"/><circle cx="278.64" cy="412.58" r="2.6" fill="#000000"/><circle cx="285.43" cy="415.98" r="2.6" fill="#000000"/><circle cx="292.23" cy="419.13" r="2.6" fill="#000000"/><circle cx="299.03" cy="422.19" r="2.6" fill="#000000"/><circle cx="305.83" cy="424.84" r="2.6" fill="#000000"/><circle cx="312.63" cy="427.33" r="2.6" fill="#000000"/><circle cx="319.42" cy="429.32" r="2.6" fill="#000000"/><circle cx="326.22" cy="431.72" r="2.6" fill="#000000"/><circle cx="333.02" cy="433.38" r="2.6" fill="#000000"/><circle cx="339.82" cy="434.87" r="2.6" fill="#000000"/><circle cx="346.62" cy="436.27" r="2.6" fill="#000000"/><circle cx="353.41" cy="437.68" r="2.6" fill="#000000"/><circle cx="360.21" cy="438.93" r="2.6" fill="#000000"/><circle cx="367.01" cy="440" r="2.6" fill="#000000"/><circle cx="373.81" cy="441.08" r="2.6" fill="#000000"/><circle cx="380.61" cy="441.99" r="2.6" fill="#000000"/><circle cx="387.4" cy="442.9" r="2.6" fill="#000000"/><circle cx="394.2" cy="443.73" r="2.6" fill="#000000"/><circle cx="401" cy="444.72" r="2.6" fill="#000000"/><circle cx="407.8" cy="445.55" r="2.6" fill="#000000"/><circle cx="414.6" cy="446.22" r="2.6" fill="#000000"/><circle cx="421.39" cy="446.8" r="2.6" fill="#000000"/><circle cx="428.19" cy="447.29" r="2.6" fill="#000000"/><circle cx="434.99" cy="447.79" r="2.6" fill="#000000"/><circle cx="441.79" cy="448.2" r="2.6" fill="#000000"/><circle cx="448.59" cy="448.53" r="2.6" fill="#000000"/><circle cx="455.38" cy="448.87" r="2.6" fill="#000000"/><circle cx="462.18" cy="449.11" r="2.6" fill="#000000"/></g>
<rect x="59.6" y="244.5" width="407.9" height="207.1" fill="none" stroke="#000" stroke-width="1"/>
<text x="51.3" y="457" text-anchor="end">0.0</text>
<text x="51.3" y="415.58" text-anchor="end">0.5</text>
<text x="51.3" y="374.16" text-anchor="end">1.0</text>
<text x="51.3" y="332.74" text-anchor="end">1.5</text>
<text x="51.3" y="291.32" text-anchor="end">2.0</text>
<text x="51.3" y="249.9" text-anchor="end">2.5</text>
<g transform="translate(16.0 348.05) rotate(-90)"><text x="-34.3" y="0" font-style="italic" textLength="8.2" lengthAdjust="spacingAndGlyphs">ρ</text><text x="-25.7" y="3.4" class="s" textLength="10" lengthAdjust="spacingAndGlyphs">pt</text><text x="-9.2" y="0">[</text><text x="-4.2" y="0" textLength="17.6" lengthAdjust="spacingAndGlyphs">fm</text><text x="14.1" y="-6.4" class="s" textLength="8" lengthAdjust="spacingAndGlyphs">−</text><text x="22.4" y="-6.4" class="s">3</text><text x="28.4" y="0">]</text></g>
<path d="M59.6 676.4v-4.5M59.6 472.8v4.5M70.48 676.4v-2.3M70.48 472.8v2.3M81.35 676.4v-2.3M81.35 472.8v2.3M92.23 676.4v-2.3M92.23 472.8v2.3M103.11 676.4v-2.3M103.11 472.8v2.3M113.99 676.4v-4.5M113.99 472.8v4.5M124.86 676.4v-2.3M124.86 472.8v2.3M135.74 676.4v-2.3M135.74 472.8v2.3M146.62 676.4v-2.3M146.62 472.8v2.3M157.5 676.4v-2.3M157.5 472.8v2.3M168.37 676.4v-4.5M168.37 472.8v4.5M179.25 676.4v-2.3M179.25 472.8v2.3M190.13 676.4v-2.3M190.13 472.8v2.3M201.01 676.4v-2.3M201.01 472.8v2.3M211.88 676.4v-2.3M211.88 472.8v2.3M222.76 676.4v-4.5M222.76 472.8v4.5M233.64 676.4v-2.3M233.64 472.8v2.3M244.51 676.4v-2.3M244.51 472.8v2.3M255.39 676.4v-2.3M255.39 472.8v2.3M266.27 676.4v-2.3M266.27 472.8v2.3M277.15 676.4v-4.5M277.15 472.8v4.5M288.02 676.4v-2.3M288.02 472.8v2.3M298.9 676.4v-2.3M298.9 472.8v2.3M309.78 676.4v-2.3M309.78 472.8v2.3M320.66 676.4v-2.3M320.66 472.8v2.3M331.53 676.4v-4.5M331.53 472.8v4.5M342.41 676.4v-2.3M342.41 472.8v2.3M353.29 676.4v-2.3M353.29 472.8v2.3M364.17 676.4v-2.3M364.17 472.8v2.3M375.04 676.4v-2.3M375.04 472.8v2.3M385.92 676.4v-4.5M385.92 472.8v4.5M396.8 676.4v-2.3M396.8 472.8v2.3M407.67 676.4v-2.3M407.67 472.8v2.3M418.55 676.4v-2.3M418.55 472.8v2.3M429.43 676.4v-2.3M429.43 472.8v2.3M440.31 676.4v-4.5M440.31 472.8v4.5M451.18 676.4v-2.3M451.18 472.8v2.3M462.06 676.4v-2.3M462.06 472.8v2.3M59.6 676.4h4.5M467.5 676.4h-4.5M59.6 669.61h2.3M467.5 669.61h-2.3M59.6 662.83h2.3M467.5 662.83h-2.3M59.6 656.04h2.3M467.5 656.04h-2.3M59.6 649.25h2.3M467.5 649.25h-2.3M59.6 642.47h4.5M467.5 642.47h-4.5M59.6 635.68h2.3M467.5 635.68h-2.3M59.6 628.89h2.3M467.5 628.89h-2.3M59.6 622.11h2.3M467.5 622.11h-2.3M59.6 615.32h2.3M467.5 615.32h-2.3M59.6 608.53h4.5M467.5 608.53h-4.5M59.6 601.75h2.3M467.5 601.75h-2.3M59.6 594.96h2.3M467.5 594.96h-2.3M59.6 588.17h2.3M467.5 588.17h-2.3M59.6 581.39h2.3M467.5 581.39h-2.3M59.6 574.6h4.5M467.5 574.6h-4.5M59.6 567.81h2.3M467.5 567.81h-2.3M59.6 561.03h2.3M467.5 561.03h-2.3M59.6 554.24h2.3M467.5 554.24h-2.3M59.6 547.45h2.3M467.5 547.45h-2.3M59.6 540.67h4.5M467.5 540.67h-4.5M59.6 533.88h2.3M467.5 533.88h-2.3M59.6 527.09h2.3M467.5 527.09h-2.3M59.6 520.31h2.3M467.5 520.31h-2.3M59.6 513.52h2.3M467.5 513.52h-2.3M59.6 506.73h4.5M467.5 506.73h-4.5M59.6 499.95h2.3M467.5 499.95h-2.3M59.6 493.16h2.3M467.5 493.16h-2.3M59.6 486.37h2.3M467.5 486.37h-2.3M59.6 479.59h2.3M467.5 479.59h-2.3M59.6 472.8h4.5M467.5 472.8h-4.5" stroke="#000" stroke-width="0.85" fill="none"/>
<g><path d="M61.1 638.76V641.76M58.9 638.76H63.3M58.9 641.76H63.3" stroke="#00ff00" stroke-width="0.75" fill="none"/><circle cx="61.1" cy="640.26" r="2.6" fill="#00ff00"/><circle cx="67.9" cy="642.13" r="2.6" fill="#00ff00"/><circle cx="74.7" cy="642.3" r="2.6" fill="#00ff00"/><circle cx="81.49" cy="641.45" r="2.6" fill="#00ff00"/><circle cx="88.29" cy="641.96" r="2.6" fill="#00ff00"/><circle cx="95.09" cy="642.98" r="2.6" fill="#00ff00"/><circle cx="101.89" cy="643.31" r="2.6" fill="#00ff00"/><circle cx="108.69" cy="643.82" r="2.6" fill="#00ff00"/><circle cx="115.48" cy="644.67" r="2.6" fill="#00ff00"/><circle cx="122.28" cy="645.01" r="2.6" fill="#00ff00"/><circle cx="129.08" cy="645.86" r="2.6" fill="#00ff00"/><circle cx="135.88" cy="646.37" r="2.6" fill="#00ff00"/><circle cx="142.68" cy="647.39" r="2.6" fill="#00ff00"/><circle cx="149.47" cy="648.24" r="2.6" fill="#00ff00"/><circle cx="156.27" cy="649.25" r="2.6" fill="#00ff00"/><circle cx="163.07" cy="650.44" r="2.6" fill="#00ff00"/><circle cx="169.87" cy="651.46" r="2.6" fill="#00ff00"/><circle cx="176.67" cy="652.31" r="2.6" fill="#00ff00"/><circle cx="183.46" cy="653.16" r="2.6" fill="#00ff00"/><circle cx="190.26" cy="654.17" r="2.6" fill="#00ff00"/><circle cx="197.06" cy="655.19" r="2.6" fill="#00ff00"/><circle cx="203.86" cy="656.38" r="2.6" fill="#00ff00"/><circle cx="210.66" cy="657.57" r="2.6" fill="#00ff00"/><circle cx="217.45" cy="658.75" r="2.6" fill="#00ff00"/><circle cx="224.25" cy="659.77" r="2.6" fill="#00ff00"/><circle cx="231.05" cy="660.79" r="2.6" fill="#00ff00"/><circle cx="237.85" cy="661.77" r="2.6" fill="#00ff00"/><circle cx="244.65" cy="662.73" r="2.6" fill="#00ff00"/><circle cx="251.44" cy="663.67" r="2.6" fill="#00ff00"/><circle cx="258.24" cy="664.61" r="2.6" fill="#00ff00"/><circle cx="265.04" cy="665.54" r="2.6" fill="#00ff00"/><circle cx="271.84" cy="666.51" r="2.6" fill="#00ff00"/><circle cx="278.64" cy="667.41" r="2.6" fill="#00ff00"/><circle cx="285.43" cy="668.15" r="2.6" fill="#00ff00"/><circle cx="292.23" cy="668.82" r="2.6" fill="#00ff00"/><circle cx="299.03" cy="669.44" r="2.6" fill="#00ff00"/><circle cx="305.83" cy="670.05" r="2.6" fill="#00ff00"/><circle cx="312.63" cy="670.62" r="2.6" fill="#00ff00"/><circle cx="319.42" cy="671.14" r="2.6" fill="#00ff00"/><circle cx="326.22" cy="671.6" r="2.6" fill="#00ff00"/><circle cx="333.02" cy="672.02" r="2.6" fill="#00ff00"/><circle cx="339.82" cy="672.42" r="2.6" fill="#00ff00"/><circle cx="346.62" cy="672.84" r="2.6" fill="#00ff00"/><circle cx="353.41" cy="673.28" r="2.6" fill="#00ff00"/><circle cx="360.21" cy="673.72" r="2.6" fill="#00ff00"/><circle cx="367.01" cy="674.13" r="2.6" fill="#00ff00"/><circle cx="373.81" cy="674.49" r="2.6" fill="#00ff00"/><circle cx="380.61" cy="674.79" r="2.6" fill="#00ff00"/><circle cx="387.4" cy="675.04" r="2.6" fill="#00ff00"/><circle cx="394.2" cy="675.25" r="2.6" fill="#00ff00"/><circle cx="401" cy="675.43" r="2.6" fill="#00ff00"/><circle cx="407.8" cy="675.58" r="2.6" fill="#00ff00"/><circle cx="414.6" cy="675.7" r="2.6" fill="#00ff00"/><circle cx="421.39" cy="675.81" r="2.6" fill="#00ff00"/><circle cx="428.19" cy="675.89" r="2.6" fill="#00ff00"/><circle cx="434.99" cy="675.96" r="2.6" fill="#00ff00"/><circle cx="441.79" cy="676.02" r="2.6" fill="#00ff00"/><circle cx="448.59" cy="676.07" r="2.6" fill="#00ff00"/><circle cx="455.38" cy="676.11" r="2.6" fill="#00ff00"/><circle cx="462.18" cy="676.15" r="2.6" fill="#00ff00"/></g>
<g><path d="M61.1 590.11V598.11M58.9 590.11H63.3M58.9 598.11H63.3" stroke="#0000ff" stroke-width="0.75" fill="none"/><circle cx="61.1" cy="594.11" r="2.6" fill="#0000ff"/><path d="M67.9 594.47V596.47M65.7 594.47H70.1M65.7 596.47H70.1" stroke="#0000ff" stroke-width="0.75" fill="none"/><circle cx="67.9" cy="595.47" r="2.6" fill="#0000ff"/><circle cx="74.7" cy="597" r="2.6" fill="#0000ff"/><circle cx="81.49" cy="597.17" r="2.6" fill="#0000ff"/><circle cx="88.29" cy="598.52" r="2.6" fill="#0000ff"/><circle cx="95.09" cy="600.05" r="2.6" fill="#0000ff"/><circle cx="101.89" cy="602.26" r="2.6" fill="#0000ff"/><circle cx="108.69" cy="603.78" r="2.6" fill="#0000ff"/><circle cx="115.48" cy="606.5" r="2.6" fill="#0000ff"/><circle cx="122.28" cy="609.04" r="2.6" fill="#0000ff"/><circle cx="129.08" cy="611.59" r="2.6" fill="#0000ff"/><circle cx="135.88" cy="614.64" r="2.6" fill="#0000ff"/><circle cx="142.68" cy="617.53" r="2.6" fill="#0000ff"/><circle cx="149.47" cy="621.09" r="2.6" fill="#0000ff"/><circle cx="156.27" cy="624.14" r="2.6" fill="#0000ff"/><circle cx="163.07" cy="627.71" r="2.6" fill="#0000ff"/><circle cx="169.87" cy="631.1" r="2.6" fill="#0000ff"/><circle cx="176.67" cy="634.83" r="2.6" fill="#0000ff"/><circle cx="183.46" cy="638.23" r="2.6" fill="#0000ff"/><circle cx="190.26" cy="641.28" r="2.6" fill="#0000ff"/><circle cx="197.06" cy="644.33" r="2.6" fill="#0000ff"/><circle cx="203.86" cy="647.39" r="2.6" fill="#0000ff"/><circle cx="210.66" cy="650.44" r="2.6" fill="#0000ff"/><circle cx="217.45" cy="653.16" r="2.6" fill="#0000ff"/><circle cx="224.25" cy="655.53" r="2.6" fill="#0000ff"/><circle cx="231.05" cy="658.08" r="2.6" fill="#0000ff"/><circle cx="237.85" cy="659.94" r="2.6" fill="#0000ff"/><circle cx="244.65" cy="662.15" r="2.6" fill="#0000ff"/><circle cx="251.44" cy="663.51" r="2.6" fill="#0000ff"/><circle cx="258.24" cy="665.32" r="2.6" fill="#0000ff"/><circle cx="265.04" cy="667.07" r="2.6" fill="#0000ff"/><circle cx="271.84" cy="668.47" r="2.6" fill="#0000ff"/><circle cx="278.64" cy="669.61" r="2.6" fill="#0000ff"/><circle cx="285.43" cy="670.47" r="2.6" fill="#0000ff"/><circle cx="292.23" cy="671.17" r="2.6" fill="#0000ff"/><circle cx="299.03" cy="671.82" r="2.6" fill="#0000ff"/><circle cx="305.83" cy="672.46" r="2.6" fill="#0000ff"/><circle cx="312.63" cy="673.04" r="2.6" fill="#0000ff"/><circle cx="319.42" cy="673.52" r="2.6" fill="#0000ff"/><circle cx="326.22" cy="673.89" r="2.6" fill="#0000ff"/><circle cx="333.02" cy="674.2" r="2.6" fill="#0000ff"/><circle cx="339.82" cy="674.47" r="2.6" fill="#0000ff"/><circle cx="346.62" cy="674.7" r="2.6" fill="#0000ff"/><circle cx="353.41" cy="674.92" r="2.6" fill="#0000ff"/><circle cx="360.21" cy="675.1" r="2.6" fill="#0000ff"/><circle cx="367.01" cy="675.27" r="2.6" fill="#0000ff"/><circle cx="373.81" cy="675.41" r="2.6" fill="#0000ff"/><circle cx="380.61" cy="675.53" r="2.6" fill="#0000ff"/><circle cx="387.4" cy="675.64" r="2.6" fill="#0000ff"/><circle cx="394.2" cy="675.73" r="2.6" fill="#0000ff"/><circle cx="401" cy="675.81" r="2.6" fill="#0000ff"/><circle cx="407.8" cy="675.88" r="2.6" fill="#0000ff"/><circle cx="414.6" cy="675.94" r="2.6" fill="#0000ff"/><circle cx="421.39" cy="675.99" r="2.6" fill="#0000ff"/><circle cx="428.19" cy="676.04" r="2.6" fill="#0000ff"/><circle cx="434.99" cy="676.08" r="2.6" fill="#0000ff"/><circle cx="441.79" cy="676.11" r="2.6" fill="#0000ff"/><circle cx="448.59" cy="676.14" r="2.6" fill="#0000ff"/><circle cx="455.38" cy="676.17" r="2.6" fill="#0000ff"/><circle cx="462.18" cy="676.2" r="2.6" fill="#0000ff"/></g>
<g><path d="M61.1 540.08V546.68M58.9 540.08H63.3M58.9 546.68H63.3" stroke="#ff0000" stroke-width="0.75" fill="none"/><circle cx="61.1" cy="543.38" r="2.6" fill="#ff0000"/><path d="M67.9 541.87V543.87M65.7 541.87H70.1M65.7 543.87H70.1" stroke="#ff0000" stroke-width="0.75" fill="none"/><circle cx="67.9" cy="542.87" r="2.6" fill="#ff0000"/><circle cx="74.7" cy="544.91" r="2.6" fill="#ff0000"/><circle cx="81.49" cy="546.77" r="2.6" fill="#ff0000"/><circle cx="88.29" cy="550.17" r="2.6" fill="#ff0000"/><circle cx="95.09" cy="553.56" r="2.6" fill="#ff0000"/><circle cx="101.89" cy="557.97" r="2.6" fill="#ff0000"/><circle cx="108.69" cy="562.55" r="2.6" fill="#ff0000"/><circle cx="115.48" cy="567.3" r="2.6" fill="#ff0000"/><circle cx="122.28" cy="573.41" r="2.6" fill="#ff0000"/><circle cx="129.08" cy="579.35" r="2.6" fill="#ff0000"/><circle cx="135.88" cy="585.97" r="2.6" fill="#ff0000"/><circle cx="142.68" cy="592.75" r="2.6" fill="#ff0000"/><circle cx="149.47" cy="599.54" r="2.6" fill="#ff0000"/><circle cx="156.27" cy="606.5" r="2.6" fill="#ff0000"/><circle cx="163.07" cy="613.45" r="2.6" fill="#ff0000"/><circle cx="169.87" cy="619.56" r="2.6" fill="#ff0000"/><circle cx="176.67" cy="626.01" r="2.6" fill="#ff0000"/><circle cx="183.46" cy="631.78" r="2.6" fill="#ff0000"/><circle cx="190.26" cy="636.87" r="2.6" fill="#ff0000"/><circle cx="197.06" cy="641.62" r="2.6" fill="#ff0000"/><circle cx="203.86" cy="646.37" r="2.6" fill="#ff0000"/><circle cx="210.66" cy="650.44" r="2.6" fill="#ff0000"/><circle cx="217.45" cy="653.83" r="2.6" fill="#ff0000"/><circle cx="224.25" cy="657.06" r="2.6" fill="#ff0000"/><circle cx="231.05" cy="659.6" r="2.6" fill="#ff0000"/><circle cx="237.85" cy="662.15" r="2.6" fill="#ff0000"/><circle cx="244.65" cy="664.18" r="2.6" fill="#ff0000"/><circle cx="251.44" cy="665.71" r="2.6" fill="#ff0000"/><circle cx="258.24" cy="667.22" r="2.6" fill="#ff0000"/><circle cx="265.04" cy="668.6" r="2.6" fill="#ff0000"/><circle cx="271.84" cy="669.79" r="2.6" fill="#ff0000"/><circle cx="278.64" cy="670.8" r="2.6" fill="#ff0000"/><circle cx="285.43" cy="671.6" r="2.6" fill="#ff0000"/><circle cx="292.23" cy="672.26" r="2.6" fill="#ff0000"/><circle cx="299.03" cy="672.84" r="2.6" fill="#ff0000"/><circle cx="305.83" cy="673.37" r="2.6" fill="#ff0000"/><circle cx="312.63" cy="673.83" r="2.6" fill="#ff0000"/><circle cx="319.42" cy="674.19" r="2.6" fill="#ff0000"/><circle cx="326.22" cy="674.47" r="2.6" fill="#ff0000"/><circle cx="333.02" cy="674.69" r="2.6" fill="#ff0000"/><circle cx="339.82" cy="674.87" r="2.6" fill="#ff0000"/><circle cx="346.62" cy="675.04" r="2.6" fill="#ff0000"/><circle cx="353.41" cy="675.19" r="2.6" fill="#ff0000"/><circle cx="360.21" cy="675.32" r="2.6" fill="#ff0000"/><circle cx="367.01" cy="675.44" r="2.6" fill="#ff0000"/><circle cx="373.81" cy="675.54" r="2.6" fill="#ff0000"/><circle cx="380.61" cy="675.64" r="2.6" fill="#ff0000"/><circle cx="387.4" cy="675.72" r="2.6" fill="#ff0000"/><circle cx="394.2" cy="675.8" r="2.6" fill="#ff0000"/><circle cx="401" cy="675.87" r="2.6" fill="#ff0000"/><circle cx="407.8" cy="675.93" r="2.6" fill="#ff0000"/><circle cx="414.6" cy="675.98" r="2.6" fill="#ff0000"/><circle cx="421.39" cy="676.03" r="2.6" fill="#ff0000"/><circle cx="428.19" cy="676.08" r="2.6" fill="#ff0000"/><circle cx="434.99" cy="676.11" r="2.6" fill="#ff0000"/><circle cx="441.79" cy="676.15" r="2.6" fill="#ff0000"/><circle cx="448.59" cy="676.18" r="2.6" fill="#ff0000"/><circle cx="455.38" cy="676.21" r="2.6" fill="#ff0000"/><circle cx="462.18" cy="676.23" r="2.6" fill="#ff0000"/></g>
<g><path d="M61.1 487.63V495.63M58.9 487.63H63.3M58.9 495.63H63.3" stroke="#000000" stroke-width="0.75" fill="none"/><circle cx="61.1" cy="491.63" r="2.6" fill="#000000"/><path d="M67.9 489.08V491.48M65.7 489.08H70.1M65.7 491.48H70.1" stroke="#000000" stroke-width="0.75" fill="none"/><circle cx="67.9" cy="490.28" r="2.6" fill="#000000"/><circle cx="74.7" cy="494.18" r="2.6" fill="#000000"/><circle cx="81.49" cy="496.72" r="2.6" fill="#000000"/><circle cx="88.29" cy="501.47" r="2.6" fill="#000000"/><circle cx="95.09" cy="507.07" r="2.6" fill="#000000"/><circle cx="101.89" cy="513.52" r="2.6" fill="#000000"/><circle cx="108.69" cy="522.34" r="2.6" fill="#000000"/><circle cx="115.48" cy="531.67" r="2.6" fill="#000000"/><circle cx="122.28" cy="541.18" r="2.6" fill="#000000"/><circle cx="129.08" cy="552.03" r="2.6" fill="#000000"/><circle cx="135.88" cy="563.06" r="2.6" fill="#000000"/><circle cx="142.68" cy="574.26" r="2.6" fill="#000000"/><circle cx="149.47" cy="584.95" r="2.6" fill="#000000"/><circle cx="156.27" cy="595.64" r="2.6" fill="#000000"/><circle cx="163.07" cy="605.65" r="2.6" fill="#000000"/><circle cx="169.87" cy="614.81" r="2.6" fill="#000000"/><circle cx="176.67" cy="623.29" r="2.6" fill="#000000"/><circle cx="183.46" cy="630.76" r="2.6" fill="#000000"/><circle cx="190.26" cy="637.21" r="2.6" fill="#000000"/><circle cx="197.06" cy="642.98" r="2.6" fill="#000000"/><circle cx="203.86" cy="648.07" r="2.6" fill="#000000"/><circle cx="210.66" cy="652.48" r="2.6" fill="#000000"/><circle cx="217.45" cy="656.21" r="2.6" fill="#000000"/><circle cx="224.25" cy="659.26" r="2.6" fill="#000000"/><circle cx="231.05" cy="662.15" r="2.6" fill="#000000"/><circle cx="237.85" cy="664.35" r="2.6" fill="#000000"/><circle cx="244.65" cy="666.05" r="2.6" fill="#000000"/><circle cx="251.44" cy="667.75" r="2.6" fill="#000000"/><circle cx="258.24" cy="669.1" r="2.6" fill="#000000"/><circle cx="265.04" cy="670.29" r="2.6" fill="#000000"/><circle cx="271.84" cy="671.31" r="2.6" fill="#000000"/><circle cx="278.64" cy="672.16" r="2.6" fill="#000000"/><circle cx="285.43" cy="672.84" r="2.6" fill="#000000"/><circle cx="292.23" cy="673.35" r="2.6" fill="#000000"/><circle cx="299.03" cy="673.86" r="2.6" fill="#000000"/><circle cx="305.83" cy="674.19" r="2.6" fill="#000000"/><circle cx="312.63" cy="674.53" r="2.6" fill="#000000"/><circle cx="319.42" cy="674.81" r="2.6" fill="#000000"/><circle cx="326.22" cy="674.99" r="2.6" fill="#000000"/><circle cx="333.02" cy="675.14" r="2.6" fill="#000000"/><circle cx="339.82" cy="675.27" r="2.6" fill="#000000"/><circle cx="346.62" cy="675.38" r="2.6" fill="#000000"/><circle cx="353.41" cy="675.49" r="2.6" fill="#000000"/><circle cx="360.21" cy="675.59" r="2.6" fill="#000000"/><circle cx="367.01" cy="675.68" r="2.6" fill="#000000"/><circle cx="373.81" cy="675.76" r="2.6" fill="#000000"/><circle cx="380.61" cy="675.83" r="2.6" fill="#000000"/><circle cx="387.4" cy="675.89" r="2.6" fill="#000000"/><circle cx="394.2" cy="675.95" r="2.6" fill="#000000"/><circle cx="401" cy="676" r="2.6" fill="#000000"/><circle cx="407.8" cy="676.04" r="2.6" fill="#000000"/><circle cx="414.6" cy="676.08" r="2.6" fill="#000000"/><circle cx="421.39" cy="676.12" r="2.6" fill="#000000"/><circle cx="428.19" cy="676.15" r="2.6" fill="#000000"/><circle cx="434.99" cy="676.18" r="2.6" fill="#000000"/><circle cx="441.79" cy="676.2" r="2.6" fill="#000000"/><circle cx="448.59" cy="676.23" r="2.6" fill="#000000"/><circle cx="455.38" cy="676.25" r="2.6" fill="#000000"/><circle cx="462.18" cy="676.26" r="2.6" fill="#000000"/></g>
<rect x="59.6" y="472.8" width="407.9" height="203.6" fill="none" stroke="#000" stroke-width="1"/>
<text x="51.3" y="681.8" text-anchor="end">0.0</text>
<text x="51.3" y="647.87" text-anchor="end">2.0</text>
<text x="51.3" y="613.93" text-anchor="end">4.0</text>
<text x="51.3" y="580" text-anchor="end">6.0</text>
<text x="51.3" y="546.07" text-anchor="end">8.0</text>
<text x="51.3" y="512.13" text-anchor="end">10.0</text>
<text x="51.3" y="478.2" text-anchor="end">12.0</text>
<g transform="translate(16.0 574.6) rotate(-90)"><text x="-34.3" y="0" font-style="italic" textLength="8.2" lengthAdjust="spacingAndGlyphs">ρ</text><text x="-25.7" y="3.4" class="s" textLength="10" lengthAdjust="spacingAndGlyphs">pt</text><text x="-9.2" y="0">[</text><text x="-4.2" y="0" textLength="17.6" lengthAdjust="spacingAndGlyphs">fm</text><text x="14.1" y="-6.4" class="s" textLength="8" lengthAdjust="spacingAndGlyphs">−</text><text x="22.4" y="-6.4" class="s">3</text><text x="28.4" y="0">]</text></g>
<text x="59.6" y="698" text-anchor="middle">0.0</text>
<text x="113.99" y="698" text-anchor="middle">0.2</text>
<text x="168.37" y="698" text-anchor="middle">0.4</text>
<text x="222.76" y="698" text-anchor="middle">0.6</text>
<text x="277.15" y="698" text-anchor="middle">0.8</text>
<text x="331.53" y="698" text-anchor="middle">1.0</text>
<text x="385.92" y="698" text-anchor="middle">1.2</text>
<text x="440.31" y="698" text-anchor="middle">1.4</text>
<text x="243.4" y="712.8" font-style="italic">r</text><text x="256.8" y="712.8">[</text><text x="261.2" y="712.8" textLength="17.6" lengthAdjust="spacingAndGlyphs">fm</text><text x="278.2" y="712.8">]</text>
<text x="323" y="35.9">Λ</text><text x="338" y="35.9" textLength="12" lengthAdjust="spacingAndGlyphs">=</text><text x="355" y="35.9">2</text><text x="368.5" y="35.9" textLength="17.6" lengthAdjust="spacingAndGlyphs">fm</text><text x="387" y="30.8" class="s" textLength="8" lengthAdjust="spacingAndGlyphs">−</text><text x="395" y="30.8" class="s">1</text>
<path d="M415.4 29.4H451.6M415.4 27.35v4.1M451.6 27.35v4.1" stroke="#00ff00" stroke-width="0.9" fill="none"/>
<path d="M430.4 29.4H436.6M433.5 26.3V32.5M430.4 26.3L436.6 32.5M430.4 32.5L436.6 26.3" stroke="#00ff00" stroke-width="1.2" fill="none"/>
<text x="323" y="53.8">Λ</text><text x="338" y="53.8" textLength="12" lengthAdjust="spacingAndGlyphs">=</text><text x="355" y="53.8">4</text><text x="368.5" y="53.8" textLength="17.6" lengthAdjust="spacingAndGlyphs">fm</text><text x="387" y="48.7" class="s" textLength="8" lengthAdjust="spacingAndGlyphs">−</text><text x="395" y="48.7" class="s">1</text>
<path d="M415.4 47.3H451.6M415.4 45.25v4.1M451.6 45.25v4.1" stroke="#0000ff" stroke-width="0.9" fill="none"/>
<rect x="430.3" y="44.1" width="6.4" height="6.4" fill="#0000ff"/>
<text x="323" y="71.5">Λ</text><text x="338" y="71.5" textLength="12" lengthAdjust="spacingAndGlyphs">=</text><text x="355" y="71.5">6</text><text x="368.5" y="71.5" textLength="17.6" lengthAdjust="spacingAndGlyphs">fm</text><text x="387" y="66.4" class="s" textLength="8" lengthAdjust="spacingAndGlyphs">−</text><text x="395" y="66.4" class="s">1</text>
<path d="M415.4 65H451.6M415.4 62.95v4.1M451.6 62.95v4.1" stroke="#ff0000" stroke-width="0.9" fill="none"/>
<circle cx="433.5" cy="65" r="2.6" fill="#ff0000"/>
<text x="323" y="89.1">Λ</text><text x="338" y="89.1" textLength="12" lengthAdjust="spacingAndGlyphs">=</text><text x="355" y="89.1">8</text><text x="368.5" y="89.1" textLength="17.6" lengthAdjust="spacingAndGlyphs">fm</text><text x="387" y="84" class="s" textLength="8" lengthAdjust="spacingAndGlyphs">−</text><text x="395" y="84" class="s">1</text>
<path d="M415.4 82.6H451.6M415.4 80.55v4.1M451.6 80.55v4.1" stroke="#000000" stroke-width="0.9" fill="none"/>
<path d="M433.5 79L437.05 85.7H429.95Z" fill="#000000"/>
</svg>
</body></html>
